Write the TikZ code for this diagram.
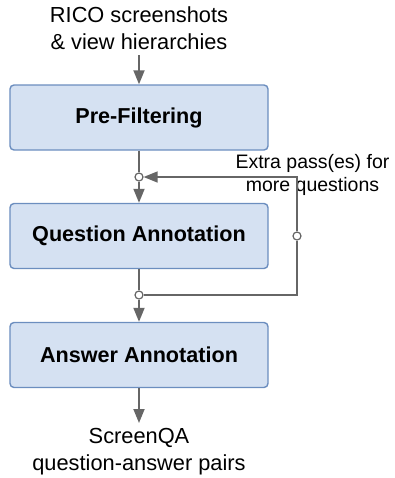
\documentclass[tikz,border=0pt]{standalone}
\usepackage{fontspec}
\setmainfont{Liberation Sans}
\usepackage{tikz}
\usetikzlibrary{positioning, arrows.meta}

\definecolor{boxfill}{HTML}{D5E1F2}
\definecolor{boxline}{HTML}{6C8EBF}
\definecolor{flowgray}{HTML}{666666}

\begin{document}
\begin{tikzpicture}[x=0.5pt,y=-0.5pt,
        stage/.style={draw=boxline, fill=boxfill, line width=0.7pt, rounded corners=2pt,
            minimum width=129pt, minimum height=32.5pt, inner sep=0pt,
            font=\fontsize{10.8}{13}\selectfont\bfseries},
        note/.style={align=center, inner sep=0pt, font=\fontsize{10.9}{13.5}\selectfont},
        junction/.style={circle, draw=flowgray, fill=white, line width=0.6pt, inner sep=0pt, minimum size=4pt},
        flow/.style={draw=flowgray, line width=0.9pt},
        >={Triangle[length=7pt,width=5.5pt]}]
        \useasboundingbox (0,0) rectangle (395,478);

        \node[note] (rico) at (139,28.5) {RICO screenshots\\\& view hierarchies};
        \node[stage] (prefilter) at (139,117.5) {Pre-Filtering};
        \node[stage] (question) at (139,236) {Question Annotation};
        \node[stage] (answer) at (139,355) {Answer Annotation};
        \node[note] (pairs) at (139,451.5) {ScreenQA\\question-answer pairs};

        \node[junction] (join1) at (139,177) {};
        \node[junction] (join2) at (139,295) {};
        \node[junction] (join3) at (297,236) {};
        \coordinate (loop1) at (297,177);
        \coordinate (loop2) at (297,295);

        \node[note, font=\fontsize{9.75}{11.5}\selectfont] (extra) at (312.5,175) {Extra pass(es) for\\more questions};

        \path[flow,->] (rico.south |- 0,55) -- (prefilter);
        \path[flow] (prefilter) -- (join1);
        \path[flow,->] (join1) -- (question);
        \path[flow] (question) -- (join2);
        \path[flow,->] (join2) -- (answer);
        \path[flow,->] (answer) -- (pairs.north |- 0,423);

        % feedback loop
        \path[flow, line width=0.7pt] (join2) -- (loop2) -- (join3);
        \path[flow, line width=0.7pt,->] (join3) -- (loop1) -- (join1);
\end{tikzpicture}
\end{document}
